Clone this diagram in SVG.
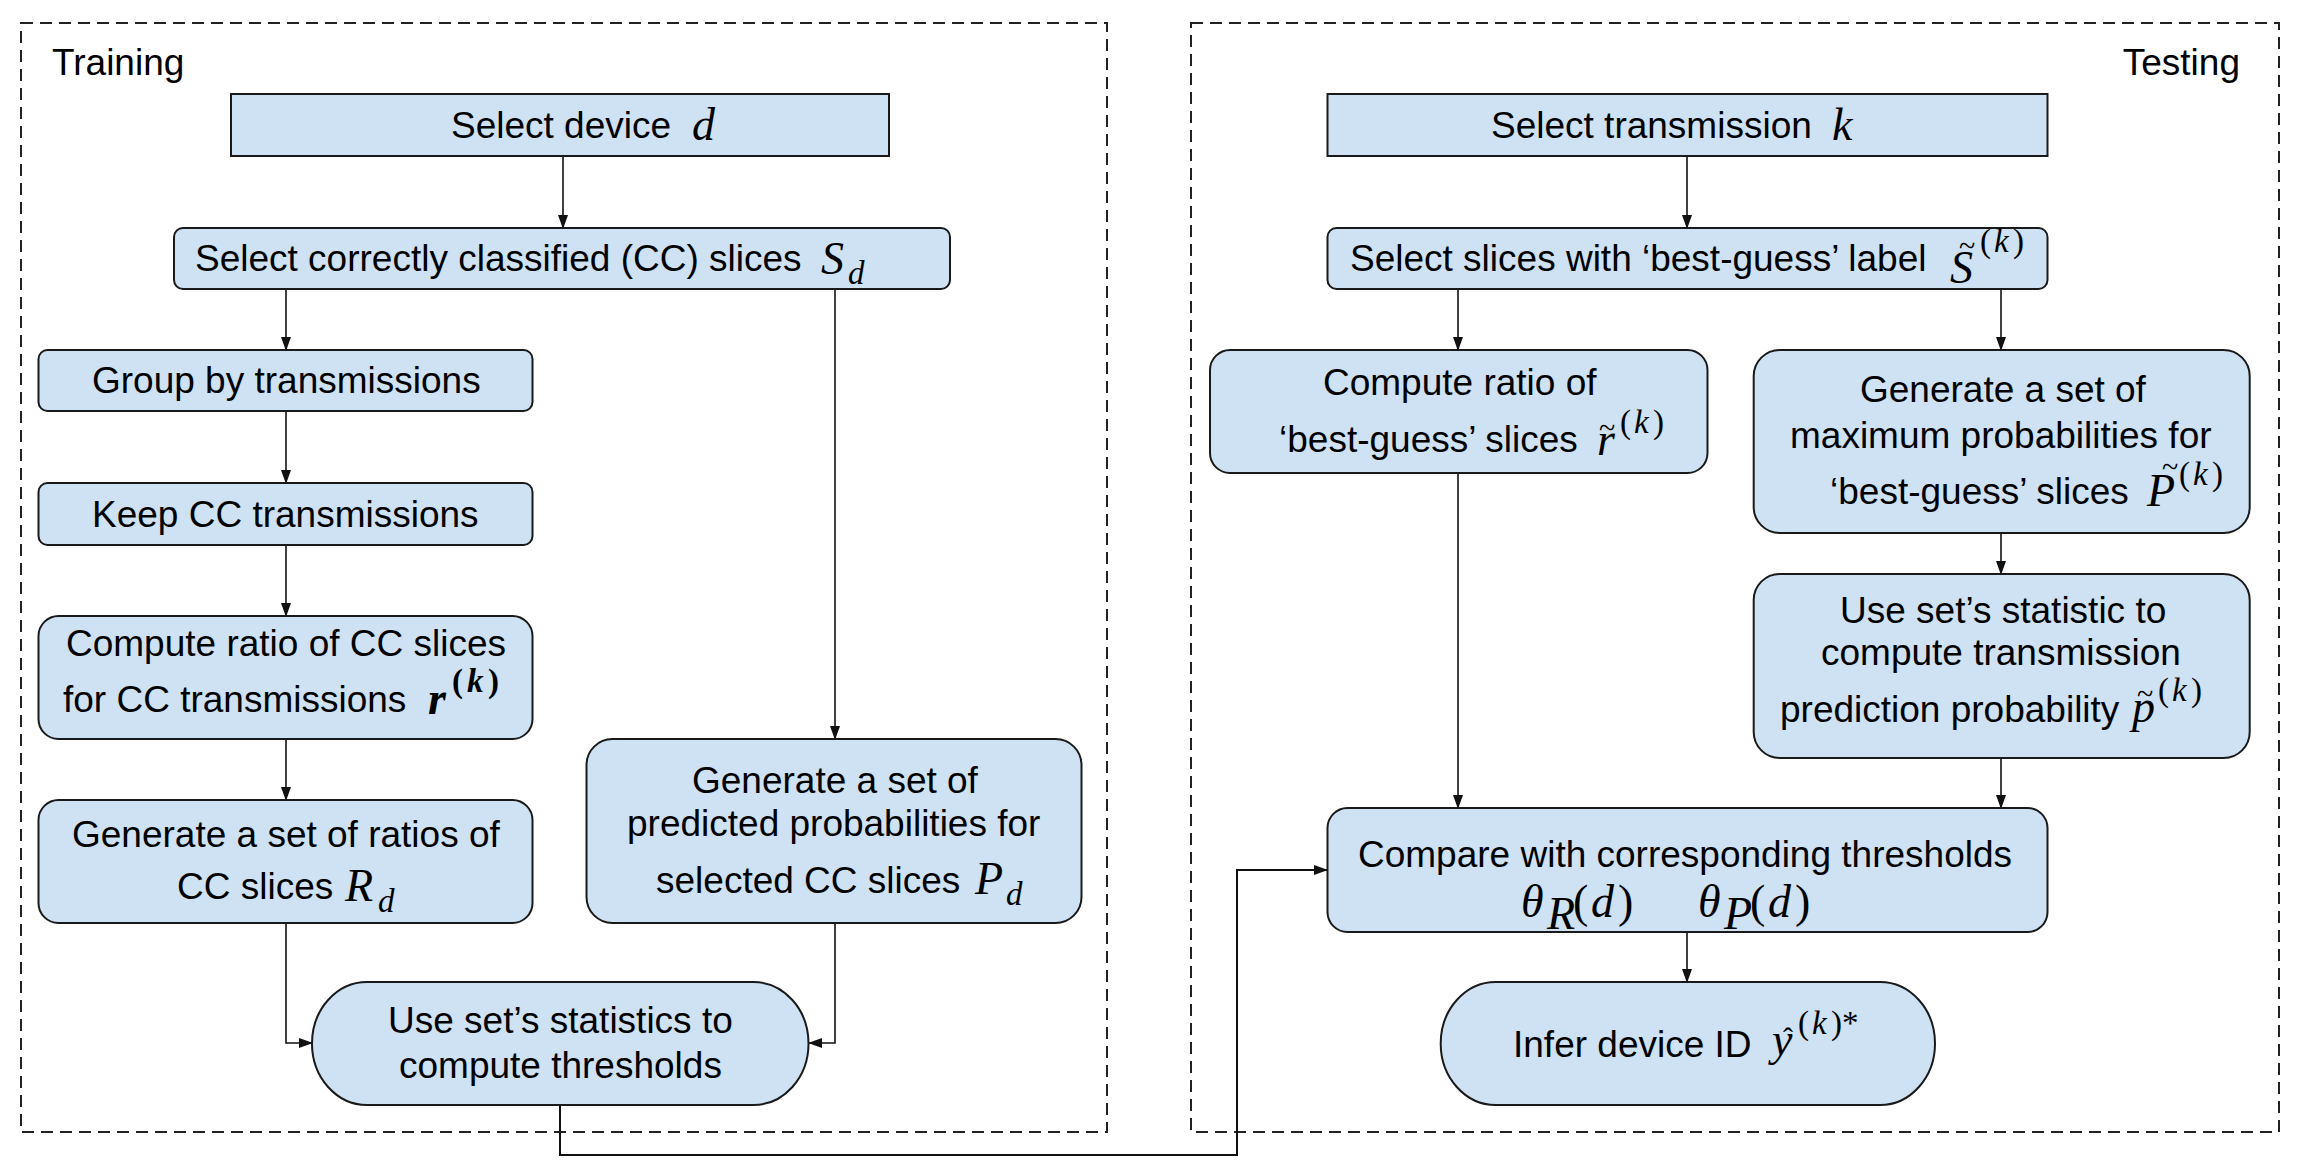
<svg xmlns="http://www.w3.org/2000/svg" width="2312" height="1170" viewBox="0 0 2312 1170">
<style>
.frame{fill:none;stroke:#222;stroke-width:2;stroke-dasharray:12 7}
.box{fill:#cfe2f3;stroke:#1a1a1a;stroke-width:2}
.t{font-family:"Liberation Sans",Arial,sans-serif;font-size:37px;fill:#000}
.m{font-family:"Liberation Serif","Times New Roman",serif;font-style:italic;font-size:46px;fill:#000}
.mu{font-family:"Liberation Serif","Times New Roman",serif;font-style:normal;font-size:46px;fill:#000}
.s{font-size:33px}
.b{font-weight:bold}
.acc{font-family:"Liberation Serif","Times New Roman",serif;font-size:30px;fill:#000}
.c{fill:none;stroke:#111;stroke-width:1.6}
.c2{fill:none;stroke:#111;stroke-width:2}
</style>
<defs>
<marker id="ah" markerUnits="userSpaceOnUse" markerWidth="14" markerHeight="12" refX="13" refY="5" orient="auto">
<path d="M0,0 L14,5 L0,10 z" fill="#111"/>
</marker>
</defs>
<rect width="2312" height="1170" fill="#fff"/>
<g id="training-frame">
<rect class="frame" x="21" y="23" width="1086" height="1109"/>
<text class="t" x="52" y="75">Training</text>
</g>
<g id="testing-frame">
<rect class="frame" x="1191" y="23" width="1088" height="1109"/>
<text class="t" x="2240" y="75" text-anchor="end">Testing</text>
</g>
<g id="connectors">
<path class="c" d="M563,156 V228" marker-end="url(#ah)"/>
<path class="c" d="M286,289 V350" marker-end="url(#ah)"/>
<path class="c" d="M835,289 V739" marker-end="url(#ah)"/>
<path class="c" d="M286,411 V483" marker-end="url(#ah)"/>
<path class="c" d="M286,545 V616" marker-end="url(#ah)"/>
<path class="c" d="M286,739 V800" marker-end="url(#ah)"/>
<path class="c" d="M286,923 V1043 H312" marker-end="url(#ah)"/>
<path class="c" d="M835,923 V1043 H809" marker-end="url(#ah)"/>
<path class="c2" d="M560,1105 V1155 H1237 V870 H1327" marker-end="url(#ah)"/>
<path class="c" d="M1687,156 V228" marker-end="url(#ah)"/>
<path class="c" d="M1458,289 V350" marker-end="url(#ah)"/>
<path class="c" d="M2001,289 V350" marker-end="url(#ah)"/>
<path class="c" d="M1458,473 V808" marker-end="url(#ah)"/>
<path class="c" d="M2001,533 V574" marker-end="url(#ah)"/>
<path class="c" d="M2001,758 V808" marker-end="url(#ah)"/>
<path class="c" d="M1687,932 V982" marker-end="url(#ah)"/>
</g>
<g id="select-device">
<rect class="box" x="231" y="94" width="658" height="62"/>
<text class="t" x="451" y="138">Select device</text>
<text class="m" x="692" y="140">d</text>
</g>
<g id="select-cc">
<rect class="box" x="174" y="228" width="776" height="61" rx="9"/>
<text class="t" x="195" y="271">Select correctly classified (CC) slices</text>
<text class="m" x="821" y="274">S</text><text class="m s" x="848" y="284">d</text>
</g>
<g id="group">
<rect class="box" x="38.5" y="350" width="494" height="61" rx="9"/>
<text class="t" x="92" y="393">Group by transmissions</text>
</g>
<g id="keep">
<rect class="box" x="38.5" y="483" width="494" height="62" rx="9"/>
<text class="t" x="92" y="527">Keep CC transmissions</text>
</g>
<g id="ratio-cc">
<rect class="box" x="38.5" y="616" width="494" height="123" rx="20"/>
<text class="t" x="66" y="656">Compute ratio of CC slices</text>
<text class="t" x="63" y="712">for CC transmissions</text>
<text class="m b" x="428" y="714">r</text><text class="mu s b" x="452" y="692">(</text><text class="m s b" x="467" y="692">k</text><text class="mu s b" x="488" y="692">)</text>
</g>
<g id="gen-ratios">
<rect class="box" x="38.5" y="800" width="494" height="123" rx="20"/>
<text class="t" x="72" y="847">Generate a set of ratios of</text>
<text class="t" x="177" y="899">CC slices</text>
<text class="m" x="345" y="901">R</text><text class="m s" x="378" y="912">d</text>
</g>
<g id="gen-probs">
<rect class="box" x="586.5" y="739" width="495" height="184" rx="26"/>
<text class="t" x="692" y="793">Generate a set of</text>
<text class="t" x="627" y="836">predicted probabilities for</text>
<text class="t" x="656" y="893">selected CC slices</text>
<text class="m" x="975" y="894">P</text><text class="m s" x="1006" y="905">d</text>
</g>
<g id="thresholds">
<rect class="box" x="312" y="982" width="496.5" height="123" rx="55" ry="61.5"/>
<text class="t" x="388" y="1033">Use set’s statistics to</text>
<text class="t" x="399" y="1078">compute thresholds</text>
</g>
<g id="select-transmission">
<rect class="box" x="1327.5" y="94" width="720" height="62"/>
<text class="t" x="1491" y="138">Select transmission</text>
<text class="m" x="1832" y="140">k</text>
</g>
<g id="select-best">
<rect class="box" x="1327.5" y="228" width="720" height="61" rx="9"/>
<text class="t" x="1350" y="271">Select slices with ‘best-guess’ label</text>
<text class="m" x="1950" y="283">S</text><text class="acc" x="1959" y="256">~</text>
<text class="mu s" x="1980" y="252">(</text><text class="m s" x="1994" y="252">k</text><text class="mu s" x="2013" y="252">)</text>
</g>
<g id="ratio-best">
<rect class="box" x="1210" y="350" width="497.5" height="123" rx="20"/>
<text class="t" x="1323" y="395">Compute ratio of</text>
<text class="t" x="1279" y="452">‘best-guess’ slices</text>
<text class="m" x="1597" y="455">r</text><text class="acc" x="1599" y="438">~</text>
<text class="mu s" x="1620" y="433">(</text><text class="m s" x="1634" y="433">k</text><text class="mu s" x="1653" y="433">)</text>
</g>
<g id="gen-max">
<rect class="box" x="1753.7" y="350" width="496" height="183" rx="26"/>
<text class="t" x="1860" y="402">Generate a set of</text>
<text class="t" x="1790" y="448">maximum probabilities for</text>
<text class="t" x="1830" y="504">‘best-guess’ slices</text>
<text class="m" x="2147" y="506">P</text><text class="acc" x="2162" y="477">~</text>
<text class="mu s" x="2179" y="485">(</text><text class="m s" x="2193" y="485">k</text><text class="mu s" x="2212" y="485">)</text>
</g>
<g id="use-stat">
<rect class="box" x="1753.7" y="574" width="496" height="184" rx="26"/>
<text class="t" x="1840" y="623">Use set’s statistic to</text>
<text class="t" x="1821" y="665">compute transmission</text>
<text class="t" x="1780" y="722">prediction probability</text>
<text class="m" x="2132" y="722">p</text><text class="acc" x="2137" y="704">~</text>
<text class="mu s" x="2158" y="701">(</text><text class="m s" x="2172" y="701">k</text><text class="mu s" x="2191" y="701">)</text>
</g>
<g id="compare">
<rect class="box" x="1327.5" y="808" width="720" height="124" rx="20"/>
<text class="t" x="1358" y="867">Compare with corresponding thresholds</text>
<text class="m" x="1521" y="917" font-size="50">θ</text><text class="m" x="1547" y="929" font-size="36">R</text><text class="mu" x="1573" y="917" font-size="50">(</text><text class="m" x="1591" y="917" font-size="50">d</text><text class="mu" x="1618" y="917" font-size="50">)</text>
<text class="m" x="1698" y="917" font-size="50">θ</text><text class="m" x="1724" y="929" font-size="36">P</text><text class="mu" x="1750" y="917" font-size="50">(</text><text class="m" x="1768" y="917" font-size="50">d</text><text class="mu" x="1795" y="917" font-size="50">)</text>
</g>
<g id="infer">
<rect class="box" x="1440.7" y="982" width="494.3" height="123" rx="55" ry="61.5"/>
<text class="t" x="1513" y="1057">Infer device ID</text>
<text class="m" x="1772" y="1055">y</text><text class="acc" x="1783" y="1048">ˆ</text>
<text class="mu s" x="1798" y="1034">(</text><text class="m s" x="1812" y="1034">k</text><text class="mu s" x="1831" y="1034">)*</text>
</g>
</svg>
